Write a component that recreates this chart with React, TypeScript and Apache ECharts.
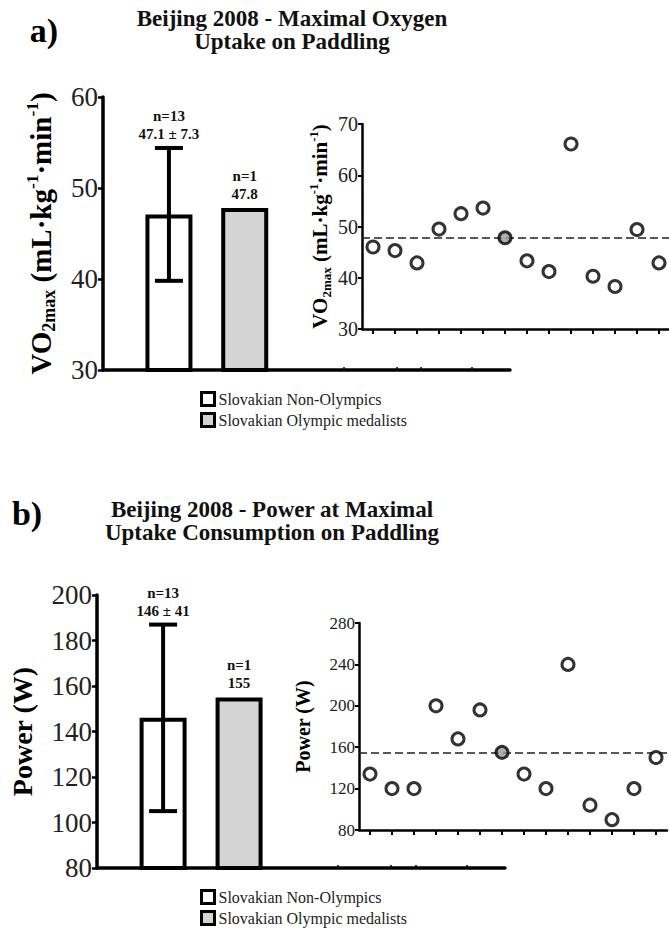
import React, { useEffect, useRef } from 'react';
import * as echarts from 'echarts';

const FONT = 'Liberation Serif, Times New Roman, serif';

// ---- data ----
const groups = ['Slovakian Non-Olympics', 'Slovakian Olympic medalists'];
const vo2Mean = [47.1, 47.8];
const vo2Sd = [7.3, 0];
const vo2N = [13, 1];
const powerMean = [146, 155];
const powerSd = [41, 0];
const powerN = [13, 1];

const athletes = ['1', '2', '3', '4', '5', '6', '7', '8', '9', '10', '11', '12', '13', '14'];
const vo2Individual = [46.0, 45.3, 42.9, 49.5, 52.5, 53.6, 47.8, 43.3, 41.2, 66.1, 40.3, 38.3, 49.4, 42.9];
const powerIndividual = [134, 120, 120, 200, 168, 196, 155, 134, 120, 240, 104, 90, 120, 150];
const medalistIndex = 6;

const vo2BarTicks = [30, 40, 50, 60];
const vo2InsetTicks = [30, 40, 50, 60, 70];
const powerBarTicks = [80, 100, 120, 140, 160, 180, 200];
const powerInsetTicks = [80, 120, 160, 200, 240, 280];
const stubTicks = [3.3, 4.0, 4.32, 5.0];

const vo2Name = 'VO{sub|2max} (mL·kg{sup|-1}·min{sup|-1})';
const powerName = 'Power (W)';

function richName(size: number) {
  return {
    fontFamily: FONT,
    fontWeight: 'bold' as const,
    fontSize: size,
    color: '#000',
    lineHeight: size * 1.2,
    rich: {
      sub: { fontFamily: FONT, fontWeight: 'bold', fontSize: size * 0.62, color: '#000', verticalAlign: 'bottom', lineHeight: size * 0.62 },
      sup: { fontFamily: FONT, fontWeight: 'bold', fontSize: size * 0.6, color: '#000', verticalAlign: 'top', lineHeight: size * 0.6 },
    },
  };
}

function axisRange(ticks: number[]) {
  return { min: ticks[0], max: ticks[ticks.length - 1], interval: ticks[1] - ticks[0] };
}

function barPanel(gi: number, mean: number[], sd: number[], n: number[], ticks: number[], name: string, nameSize: number, nameGap: number) {
  const xAxis = {
    type: 'value',
    gridIndex: gi,
    min: 0.13,
    max: 5.5,
    axisLine: { show: true, onZero: false, lineStyle: { color: '#000', width: 3.5 } },
    axisTick: { show: true, inside: true, length: 3, customValues: stubTicks, lineStyle: { color: '#000', width: 1.5 } },
    axisLabel: { show: false },
    splitLine: { show: false },
  };
  const yAxis = {
    type: 'value',
    gridIndex: gi,
    ...axisRange(ticks),
    name,
    nameLocation: 'middle',
    nameGap,
    nameTextStyle: richName(nameSize),
    axisLine: { show: true, lineStyle: { color: '#000', width: 3.5 } },
    axisTick: { show: true, length: 5, lineStyle: { color: '#000', width: 2.5 } },
    axisLabel: { fontFamily: FONT, fontSize: 27, color: '#222', margin: 5 },
    splitLine: { show: false },
  };
  const fills = ['#ffffff', '#d4d4d4'];
  const series: any[] = groups.map((g, i) => ({
    type: 'bar',
    name: g,
    xAxisIndex: gi,
    yAxisIndex: gi,
    barWidth: 47,
    barGap: '-100%',
    data: [[i + 1, mean[i]]],
    itemStyle: { color: fills[i], borderColor: '#000', borderWidth: 4 },
    z: 2,
  }));
  series.push({
    type: 'custom',
    xAxisIndex: gi,
    yAxisIndex: gi,
    data: mean.map((m, i) => [i + 1, m - sd[i], m + sd[i]]).filter((d) => d[2] > d[1]),
    renderItem: (params: any, api: any) => {
      const x = api.value(0);
      const lo = api.coord([x, api.value(1)]);
      const hi = api.coord([x, api.value(2)]);
      const hw = 14;
      const st = { stroke: '#000', lineWidth: 4 };
      return {
        type: 'group',
        children: [
          { type: 'line', shape: { x1: lo[0], y1: lo[1], x2: hi[0], y2: hi[1] }, style: st },
          { type: 'line', shape: { x1: lo[0] - hw, y1: lo[1], x2: lo[0] + hw, y2: lo[1] }, style: st },
          { type: 'line', shape: { x1: hi[0] - hw, y1: hi[1], x2: hi[0] + hw, y2: hi[1] }, style: st },
        ],
      };
    },
    z: 5,
  });
  series.push({
    type: 'custom',
    xAxisIndex: gi,
    yAxisIndex: gi,
    data: mean.map((m, i) => [i + 1, m + sd[i]]),
    renderItem: (params: any, api: any) => {
      const i = params.dataIndex;
      const p = api.coord([api.value(0), api.value(1)]);
      const txt = `n=${n[i]}\n${sd[i] ? `${mean[i]} ± ${sd[i]}` : `${mean[i]}`}`;
      return {
        type: 'text',
        x: p[0],
        y: p[1] - 5,
        style: {
          text: txt,
          align: 'center',
          verticalAlign: 'bottom',
          fontFamily: FONT,
          fontWeight: 'bold',
          fontSize: 15,
          lineHeight: 18,
          fill: '#111',
        },
      };
    },
    z: 6,
  });
  return { xAxis, yAxis, series };
}

function insetPanel(gi: number, values: number[], ref: number, ticks: number[], name: string, nameSize: number, nameGap: number, labelSize: number) {
  const xAxis = {
    type: 'category',
    gridIndex: gi,
    data: athletes,
    boundaryGap: true,
    axisLine: { show: true, lineStyle: { color: '#000', width: 2.5 } },
    axisTick: { show: true, alignWithLabel: true, length: 5, lineStyle: { color: '#000', width: 2 } },
    axisLabel: { show: false },
    splitLine: { show: false },
  };
  const yAxis = {
    type: 'value',
    gridIndex: gi,
    ...axisRange(ticks),
    name,
    nameLocation: 'middle',
    nameGap,
    nameTextStyle: richName(nameSize),
    axisLine: { show: true, lineStyle: { color: '#000', width: 2.5 } },
    axisTick: { show: true, length: 4, lineStyle: { color: '#000', width: 2 } },
    axisLabel: { fontFamily: FONT, fontSize: labelSize, color: '#222', margin: 4 },
    splitLine: { show: false },
  };
  const series = [
    {
      type: 'scatter',
      xAxisIndex: gi,
      yAxisIndex: gi,
      symbolSize: 12,
      data: values.map((v, i) => (i === medalistIndex ? { value: v, itemStyle: { color: '#9a9a9a' } } : v)),
      itemStyle: { color: '#ffffff', borderColor: '#000', borderWidth: 3 },
      z: 5,
      markLine: {
        silent: true,
        symbol: 'none',
        label: { show: false },
        lineStyle: { type: [8, 4], color: '#222', width: 1.5 },
        data: [{ yAxis: ref }],
        z: 3,
      },
    },
  ];
  return { xAxis, yAxis, series };
}

export default function App() {
  const ref = useRef<HTMLDivElement>(null);
  useEffect(() => {
    if (!ref.current) return;
    const chart = echarts.init(ref.current, undefined, { renderer: 'svg' });
    const pa = barPanel(0, vo2Mean, vo2Sd, vo2N, vo2BarTicks, vo2Name, 29, 45);
    const pai = insetPanel(1, vo2Individual, vo2Mean[1], vo2InsetTicks, vo2Name, 21, 29, 20);
    const pb = barPanel(2, powerMean, powerSd, powerN, powerBarTicks, powerName, 28, 58);
    const pbi = insetPanel(3, powerIndividual, powerMean[1], powerInsetTicks, powerName, 20, 44, 17);

    const legendBase = {
      data: groups,
      orient: 'vertical',
      left: 195,
      itemWidth: 13,
      itemHeight: 13,
      itemGap: 5,
      icon: 'rect',
      selectedMode: false,
      itemStyle: { borderColor: '#000', borderWidth: 3 },
      textStyle: { fontFamily: FONT, fontSize: 16, color: '#222', padding: [0, 0, 0, -1] },
    };

    chart.setOption({
      animation: false,
      backgroundColor: '#fff',
      grid: [
        { left: 103, top: 97, width: 407, height: 273, outerBoundsMode: 'none' },
        { left: 362, top: 124, width: 308, height: 205, outerBoundsMode: 'none' },
        { left: 97, top: 595, width: 408, height: 273, outerBoundsMode: 'none' },
        { left: 359, top: 623, width: 308, height: 207, outerBoundsMode: 'none' },
      ],
      xAxis: [pa.xAxis, pai.xAxis, pb.xAxis, pbi.xAxis],
      yAxis: [pa.yAxis, pai.yAxis, pb.yAxis, pbi.yAxis],
      series: [...pa.series, ...pai.series, ...pb.series, ...pbi.series],
      legend: [
        { ...legendBase, top: 386 },
        { ...legendBase, top: 884 },
      ],
      graphic: [
        { type: 'text', x: 44, y: 30, style: { text: 'a)', align: 'center', verticalAlign: 'middle', fontFamily: FONT, fontWeight: 'bold', fontSize: 34, fill: '#000' } },
        { type: 'text', x: 292, y: 30, style: { text: 'Beijing 2008 - Maximal Oxygen\nUptake on Paddling', align: 'center', verticalAlign: 'middle', fontFamily: FONT, fontWeight: 'bold', fontSize: 23, lineHeight: 23, fill: '#111' } },
        { type: 'text', x: 27, y: 513, style: { text: 'b)', align: 'center', verticalAlign: 'middle', fontFamily: FONT, fontWeight: 'bold', fontSize: 34, fill: '#000' } },
        { type: 'text', x: 272, y: 521, style: { text: 'Beijing 2008 - Power at Maximal\nUptake Consumption on Paddling', align: 'center', verticalAlign: 'middle', fontFamily: FONT, fontWeight: 'bold', fontSize: 23, lineHeight: 23, fill: '#111' } },
      ],
    });
    return () => chart.dispose();
  }, []);
  return <div ref={ref} style={{ position: 'absolute', left: 0, top: 0, width: 669, height: 934 }} />;
}
